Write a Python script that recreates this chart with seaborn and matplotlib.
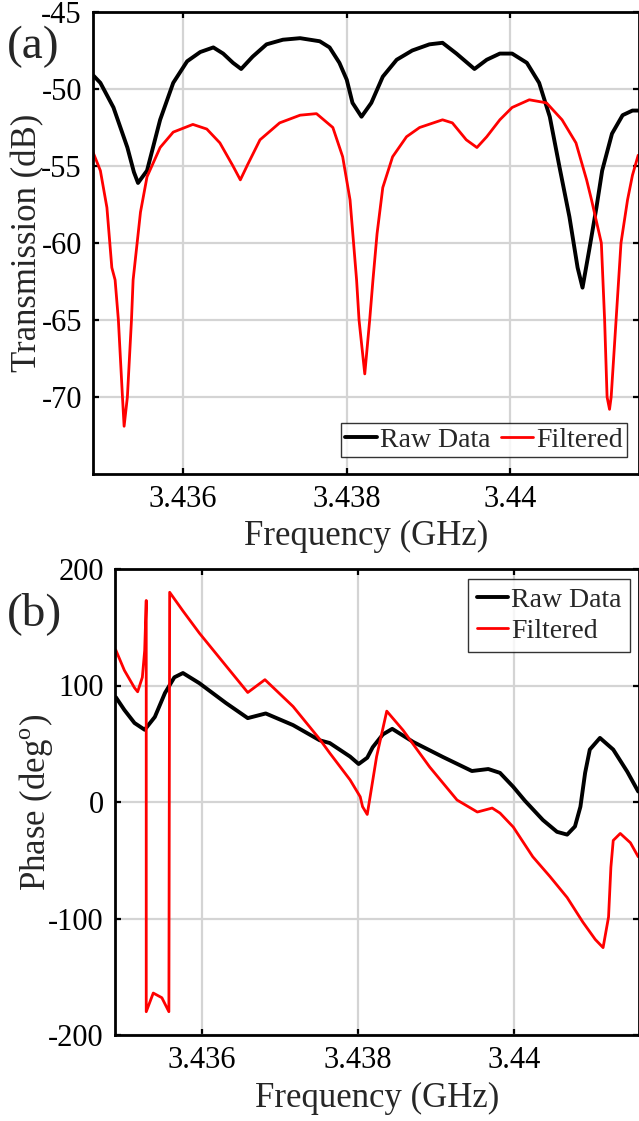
import numpy as np
import pandas as pd
import matplotlib
matplotlib.use("Agg")
import matplotlib.pyplot as plt
import seaborn as sns

# -----------------------------
# Data
# -----------------------------
# (a) transmission, raw
raw_freq_a = [3.43490, 3.43499, 3.43515, 3.43532, 3.43540, 3.43545, 3.43556, 3.43572, 3.43588, 3.43605,
              3.43621, 3.43637, 3.43649, 3.43661, 3.43671, 3.43685, 3.43702, 3.43722, 3.43743, 3.43767,
              3.43779, 3.43791, 3.43800, 3.43807, 3.43818, 3.43830, 3.43844, 3.43861, 3.43880, 3.43901,
              3.43917, 3.43934, 3.43956, 3.43971, 3.43987, 3.44002, 3.44020, 3.44035, 3.44048, 3.44060,
              3.44072, 3.44082, 3.44088, 3.44096, 3.44105, 3.44112, 3.44124, 3.44137, 3.44149, 3.44156]
raw_db = [-49.1, -49.6, -51.2, -53.8, -55.4, -56.1, -55.3, -52.0, -49.6, -48.2,
          -47.6, -47.3, -47.7, -48.3, -48.7, -47.9, -47.1, -46.8, -46.7, -46.9,
          -47.3, -48.3, -49.4, -50.9, -51.8, -50.9, -49.2, -48.1, -47.5, -47.1,
          -47.0, -47.7, -48.7, -48.1, -47.7, -47.7, -48.3, -49.6, -51.8, -55.1,
          -58.3, -61.6, -62.9, -60.5, -57.7, -55.3, -52.9, -51.7, -51.4, -51.4]

# (a) transmission, filtered
filt_freq_a = [3.43490, 3.43499, 3.43507, 3.43513, 3.43517, 3.43521, 3.43526, 3.43528, 3.43532, 3.43537,
               3.43539, 3.43548, 3.43556, 3.43572, 3.43588, 3.43612, 3.43629, 3.43645, 3.43661, 3.43670,
               3.43679, 3.43694, 3.43718, 3.43743, 3.43763, 3.43783, 3.43795, 3.43804, 3.43812, 3.43815,
               3.43822, 3.43828, 3.43832, 3.43837, 3.43844, 3.43856, 3.43873, 3.43889, 3.43917, 3.43929,
               3.43946, 3.43959, 3.43971, 3.43987, 3.44002, 3.44023, 3.44044, 3.44063, 3.44080, 3.44093,
               3.44099, 3.44111, 3.44115, 3.44118, 3.44121, 3.44123, 3.44129, 3.44135, 3.44143, 3.44149,
               3.44156]
filt_db = [-54.1, -55.3, -57.7, -61.6, -62.4, -65.0, -70.0, -71.9, -70.0, -65.0,
           -62.4, -58.0, -55.7, -53.8, -52.8, -52.3, -52.6, -53.5, -55.0, -55.9,
           -54.9, -53.3, -52.2, -51.7, -51.6, -52.5, -54.4, -57.2, -62.4, -65.0,
           -68.5, -65.0, -62.4, -59.4, -56.4, -54.4, -53.1, -52.5, -52.0, -52.2,
           -53.3, -53.8, -53.1, -52.0, -51.2, -50.7, -50.9, -52.0, -53.5, -55.9,
           -57.2, -60.0, -65.0, -70.0, -70.8, -70.0, -65.0, -60.0, -57.2, -55.6,
           -54.3]

# (b) phase, raw
raw_freq_b = [3.43490, 3.43501, 3.43514, 3.43527, 3.43540, 3.43553, 3.43565, 3.43576, 3.43597, 3.43631,
              3.43659, 3.43682, 3.43717, 3.43751, 3.43764, 3.43790, 3.43801, 3.43812, 3.43819, 3.43832,
              3.43844, 3.43871, 3.43909, 3.43946, 3.43967, 3.43982, 3.43999, 3.44014, 3.44037, 3.44055,
              3.44068, 3.44078, 3.44085, 3.44091, 3.44097, 3.44110, 3.44127, 3.44145, 3.44159]
raw_deg = [90, 79, 67.8, 62, 73, 93.6, 107, 110.7, 102, 85,
           72, 76, 66, 53, 50.6, 39, 32.6, 38, 47, 58,
           62.8, 51.5, 38.6, 26.6, 28.3, 25, 13, 1, -15.5, -25.6,
           -28, -21, -4, 25, 45, 55, 45, 26, 9]

# (b) phase, filtered (wraps at +/-180)
filt_freq_b = [3.43490, 3.43501, 3.43514, 3.43518, 3.43524, 3.43527, 3.43529, 3.43529, 3.43538, 3.43549,
               3.43558, 3.43559, 3.43576, 3.43597, 3.43631, 3.43659, 3.43681, 3.43717, 3.43751, 3.43764,
               3.43790, 3.43803, 3.43806, 3.43812, 3.43815, 3.43824, 3.43837, 3.43858, 3.43892, 3.43927,
               3.43953, 3.43972, 3.43982, 3.43999, 3.44024, 3.44046, 3.44068, 3.44088, 3.44104, 3.44114,
               3.44121, 3.44124, 3.44127, 3.44136, 3.44149, 3.44159]
filt_deg = [130.5, 113, 98, 94.6, 107, 130, 173, -180, -164, -168,
            -180, 180, 164, 145, 117, 94, 105, 82, 54, 42,
            19, 4.5, -4, -10.7, 1.7, 39, 78, 61.5, 30, 1.7,
            -8.6, -5.2, -9.5, -21.5, -47, -64, -82, -103, -118, -125,
            -98.7, -56, -33, -27, -35, -47]

freq_ticks = [3.436, 3.438, 3.440]
freq_ticklabels = ["3.436", "3.438", "3.44"]
db_ticks = [-70, -65, -60, -55, -50, -45]
deg_ticks = [-200, -100, 0, 100, 200]

# -----------------------------
# Style
# -----------------------------
sns.set_theme(style="white")
plt.rcParams["font.family"] = ["Liberation Serif", "DejaVu Serif"]
plt.rcParams["mathtext.fontset"] = "custom"
plt.rcParams["mathtext.rm"] = "Liberation Serif"
plt.rcParams["axes.unicode_minus"] = False

fig = plt.figure(figsize=(6.39, 11.21), dpi=100)
ax_a = fig.add_axes([93 / 639, 1 - 474 / 1121, 546 / 639, 462 / 1121])
ax_b = fig.add_axes([115 / 639, 1 - 1035 / 1121, 524 / 639, 466 / 1121])


def style_axes(ax):
    ax.set_axisbelow(True)
    ax.grid(True, color="#d4d4d4", linewidth=1.6)
    for s in ax.spines.values():
        s.set_color("black")
        s.set_linewidth(2.0)
    ax.tick_params(direction="in", length=4, width=1.6, colors="black",
                   top=True, right=True, bottom=True, left=True,
                   labelsize=22, pad=8)


def add_legend(ax, **kw):
    leg = ax.legend(fontsize=20, frameon=True, fancybox=False, borderaxespad=0,
                    handlelength=1.15, handletextpad=0.1, **kw)
    leg.get_frame().set_edgecolor("black")
    leg.get_frame().set_linewidth(1.0)
    return leg


# -----------------------------
# (a) Transmission
# -----------------------------
sns.lineplot(x=raw_freq_a, y=raw_db, ax=ax_a, color="black", linewidth=2.8,
             estimator=None, sort=False, label="Raw Data")
sns.lineplot(x=filt_freq_a, y=filt_db, ax=ax_a, color="red", linewidth=2.0,
             estimator=None, sort=False, label="Filtered")
style_axes(ax_a)
ax_a.set_xlim(3.43490, 3.44157)
ax_a.set_ylim(-75, -45)
ax_a.set_xticks(freq_ticks)
ax_a.set_xticklabels(freq_ticklabels)
ax_a.set_yticks(db_ticks)
ax_a.set_xlabel("Frequency (GHz)", fontsize=25)
ax_a.set_ylabel("Transmission (dB)", fontsize=25)
ax_a.xaxis.set_label_coords(0.5, -0.10)
ax_a.yaxis.set_label_coords(-0.09, 0.5)
add_legend(ax_a, loc="lower right", bbox_to_anchor=(0.978, 0.037), ncol=2,
           columnspacing=0.4, borderpad=0.15)

# -----------------------------
# (b) Phase
# -----------------------------
sns.lineplot(x=raw_freq_b, y=raw_deg, ax=ax_b, color="black", linewidth=2.8,
             estimator=None, sort=False, label="Raw Data")
sns.lineplot(x=filt_freq_b, y=filt_deg, ax=ax_b, color="red", linewidth=2.0,
             estimator=None, sort=False, label="Filtered")
style_axes(ax_b)
ax_b.set_xlim(3.43489, 3.44160)
ax_b.set_ylim(-200, 200)
ax_b.set_xticks(freq_ticks)
ax_b.set_xticklabels(freq_ticklabels)
ax_b.set_yticks(deg_ticks)
ax_b.set_xlabel("Frequency (GHz)", fontsize=25)
ax_b.set_ylabel(r"Phase (deg$^\mathrm{o}$)", fontsize=25)
ax_b.xaxis.set_label_coords(0.5, -0.10)
ax_b.yaxis.set_label_coords(-0.115, 0.5)
add_legend(ax_b, loc="upper right", bbox_to_anchor=(0.983, 0.979), ncol=1,
           labelspacing=0.2, borderpad=0.3)

# panel letters
fig.text(7 / 639, 1 - 47 / 1121, "(a)", fontsize=34, va="center", ha="left")
fig.text(7 / 639, 1 - 614 / 1121, "(b)", fontsize=34, va="center", ha="left")

fig.savefig("out.png", dpi=100)
plt.close(fig)
